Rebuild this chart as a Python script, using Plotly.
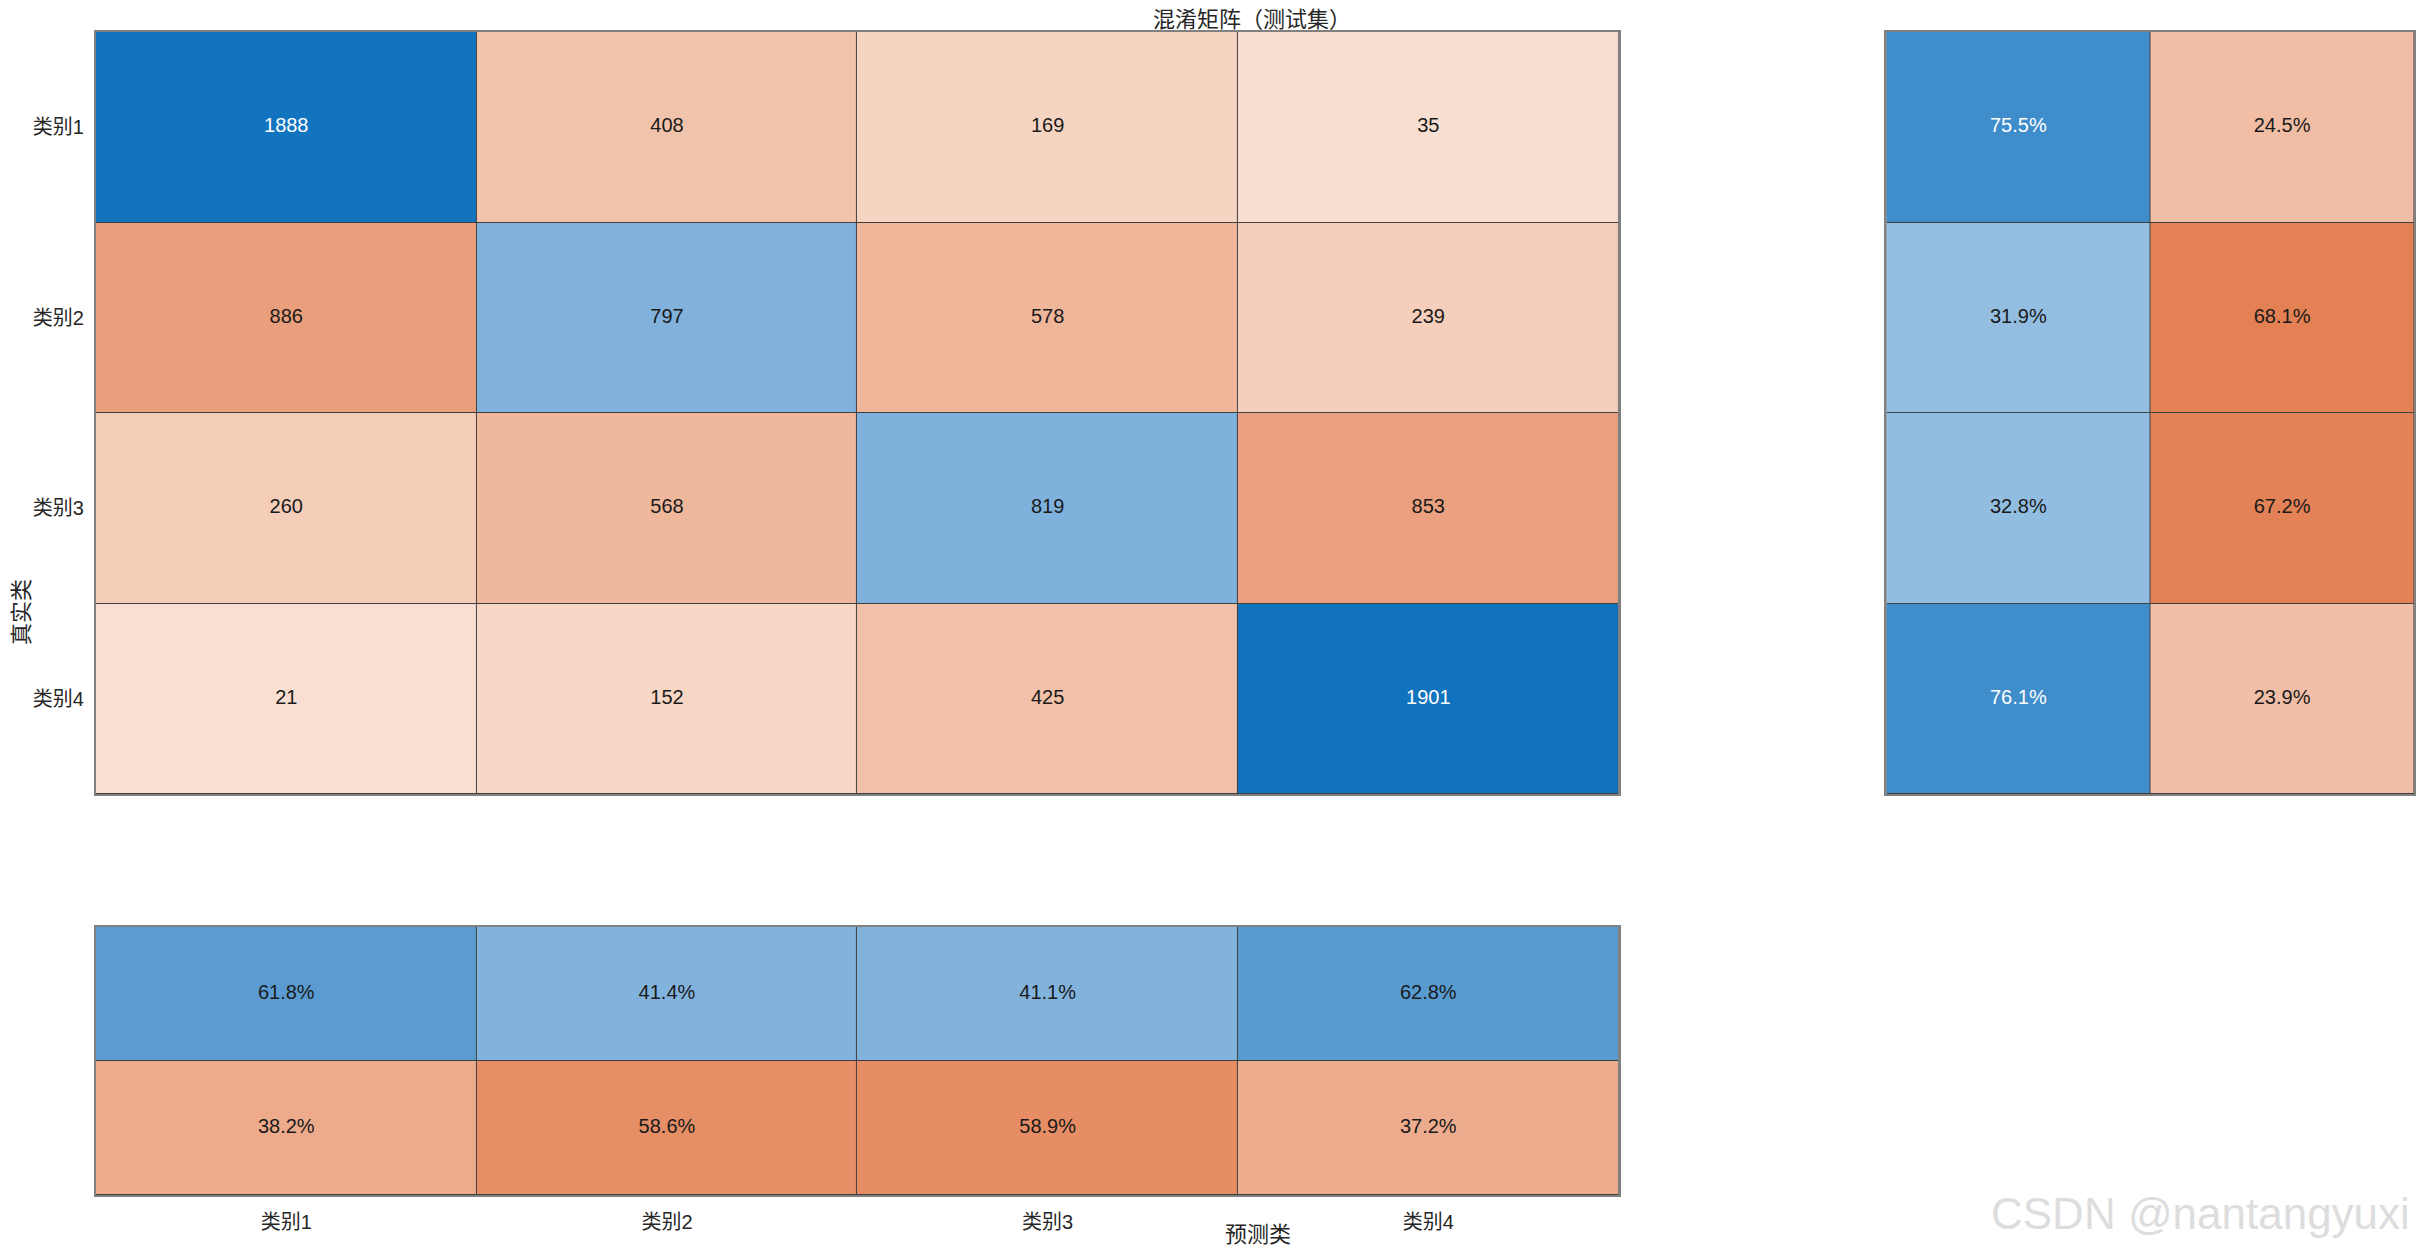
import plotly.graph_objects as go

classes = ["类别1", "类别2", "类别3", "类别4"]
counts = [
    [1888, 408, 169, 35],
    [886, 797, 578, 239],
    [260, 568, 819, 853],
    [21, 152, 425, 1901],
]
# row summary (right) and column summary (bottom), in percent
row_correct = [75.5, 31.9, 32.8, 76.1]
row_wrong = [24.5, 68.1, 67.2, 23.9]
col_correct = [61.8, 41.4, 41.1, 62.8]
col_wrong = [38.2, 58.6, 58.9, 37.2]
summary_keys = ["正确", "错误"]

BLUE = [[0, "#D0E1F2"], [1, "#1172BE"]]
ORANGE = [[0, "#F9E1D3"], [1, "#D95319"]]
FONT = "Liberation Sans, Arial, Noto Sans CJK SC, sans-serif"
W, H = 2424, 1255
OFF = 8  # page body margin
FW, FH = W - 2 * OFF, H - 2 * OFF


def px_x(a, b):
    return [(a - OFF) / FW, min(b - OFF, FW) / FW]


def px_y(top, bottom):
    return [1 - (bottom - OFF) / FH, 1 - (top - OFF) / FH]


def pos(x, y):
    return (x - OFF) / FW, 1 - (y - OFF) / FH


def text_colors(vals, vmax):
    return ["white" if v / vmax > 0.7 else "#1a1a1a" for v in vals]


n = len(classes)
cmax = max(max(r) for r in counts)
diag = [[counts[i][j] if i == j else None for j in range(n)] for i in range(n)]
offd = [[counts[i][j] if i != j else None for j in range(n)] for i in range(n)]

fig = go.Figure()

hm = dict(xgap=1, ygap=1, showscale=False, hoverinfo="skip")

# main confusion matrix
fig.add_trace(go.Heatmap(z=diag, x=classes, y=classes, colorscale=BLUE,
                         zmin=0, zmax=cmax, xaxis="x", yaxis="y", **hm))
fig.add_trace(go.Heatmap(z=offd, x=classes, y=classes, colorscale=ORANGE,
                         zmin=0, zmax=cmax, xaxis="x", yaxis="y", **hm))
cx = [c for r in classes for c in classes]
cy = [r for r in classes for c in classes]
cv = [v for row in counts for v in row]
fig.add_trace(go.Scatter(x=cx, y=cy, mode="text", text=[str(v) for v in cv],
                         textfont=dict(size=20, family=FONT, color=text_colors(cv, cmax)),
                         xaxis="x", yaxis="y", hoverinfo="skip", showlegend=False))

# right: per true class
fig.add_trace(go.Heatmap(z=[[v, None] for v in row_correct], x=summary_keys, y=classes,
                         colorscale=BLUE, zmin=0, zmax=100, xaxis="x2", yaxis="y2", **hm))
fig.add_trace(go.Heatmap(z=[[None, v] for v in row_wrong], x=summary_keys, y=classes,
                         colorscale=ORANGE, zmin=0, zmax=100, xaxis="x2", yaxis="y2", **hm))
rv = [v for pair in zip(row_correct, row_wrong) for v in pair]
fig.add_trace(go.Scatter(x=summary_keys * n, y=[c for c in classes for _ in summary_keys],
                         mode="text", text=[f"{v:.1f}%" for v in rv],
                         textfont=dict(size=20, family=FONT, color=text_colors(rv, 100)),
                         xaxis="x2", yaxis="y2", hoverinfo="skip", showlegend=False))

# bottom: per predicted class
fig.add_trace(go.Heatmap(z=[col_correct, [None] * n], x=classes, y=summary_keys,
                         colorscale=BLUE, zmin=0, zmax=100, xaxis="x3", yaxis="y3", **hm))
fig.add_trace(go.Heatmap(z=[[None] * n, col_wrong], x=classes, y=summary_keys,
                         colorscale=ORANGE, zmin=0, zmax=100, xaxis="x3", yaxis="y3", **hm))
bv = col_correct + col_wrong
fig.add_trace(go.Scatter(x=classes * 2, y=[k for k in summary_keys for _ in classes],
                         mode="text", text=[f"{v:.1f}%" for v in bv],
                         textfont=dict(size=20, family=FONT, color=text_colors(bv, 100)),
                         xaxis="x3", yaxis="y3", hoverinfo="skip", showlegend=False))

frame = dict(showline=True, mirror=True, linecolor="#808080", linewidth=2,
             showgrid=False, zeroline=False, ticks="", fixedrange=True,
             tickfont=dict(size=20, family=FONT, color="#262626"))

tx, ty = pos(1253, 20)
yx, yy = pos(21, 612)
xx, xy = pos(1259, 1234)
wx, wy = pos(2414, 1213)

fig.update_layout(
    width=FW, height=FH,
    margin=dict(l=0, r=0, t=0, b=0),
    paper_bgcolor="white",
    plot_bgcolor="#404040",
    showlegend=False,
    font=dict(family=FONT, color="#262626"),
    xaxis=dict(domain=px_x(96, 1620), anchor="y", showticklabels=False, **frame),
    yaxis=dict(domain=px_y(32, 794), anchor="x", autorange="reversed",
               ticklabelstandoff=6, **frame),
    xaxis2=dict(domain=px_x(1888, 2421), anchor="y2", showticklabels=False, **frame),
    yaxis2=dict(domain=px_y(32, 794), anchor="x2", autorange="reversed",
                showticklabels=False, **frame),
    xaxis3=dict(domain=px_x(96, 1620), anchor="y3", ticklabelstandoff=8, **frame),
    yaxis3=dict(domain=px_y(927, 1195), anchor="x3", autorange="reversed",
                showticklabels=False, **frame),
    annotations=[
        dict(text="混淆矩阵（测试集）", x=tx, y=ty, xref="paper", yref="paper",
             showarrow=False, font=dict(size=22, color="#262626"), xanchor="center", yanchor="middle"),
        dict(text="真实类", x=yx, y=yy, xref="paper", yref="paper",
             showarrow=False, textangle=-90, font=dict(size=22, color="#262626"),
             xanchor="center", yanchor="middle"),
        dict(text="预测类", x=xx, y=xy, xref="paper", yref="paper",
             showarrow=False, font=dict(size=22, color="#262626"), xanchor="center", yanchor="middle"),
        dict(text="CSDN @nantangyuxi", x=wx, y=wy, xref="paper", yref="paper",
             showarrow=False, font=dict(size=44, color="#dddddd"), xanchor="right", yanchor="middle"),
    ],
)

fig.write_html("out.html")
